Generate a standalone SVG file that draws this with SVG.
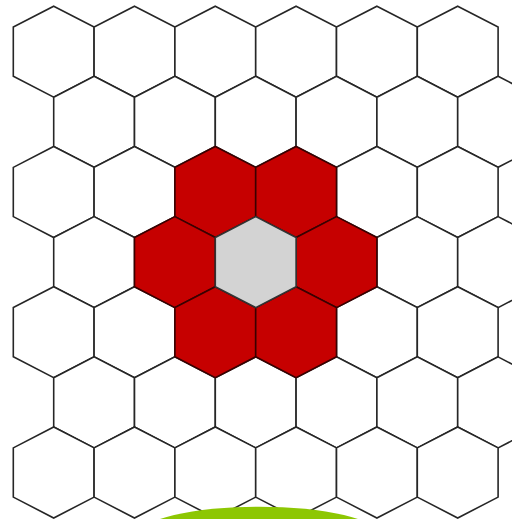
<svg xmlns="http://www.w3.org/2000/svg" xmlns:xlink="http://www.w3.org/1999/xlink" width="512" height="519" viewBox="0 0 512 519">
<style>
.w{fill:#ffffff;stroke:#262626;stroke-width:1.6;stroke-linejoin:miter}
.r{fill:#c60000;stroke:#3a0000;stroke-width:1.6}
.g{fill:#d3d3d3;stroke:#333333;stroke-width:1.6}
.blob{fill:#8dc703}
</style>
<defs>
<path id="hx" d="M0,-45.5 L40.4,-24.6 L40.4,24.6 L0,45.5 L-40.4,24.6 L-40.4,-24.6 Z"/>
</defs>
<rect width="512" height="519" fill="#ffffff"/>
<g id="grid">
<g id="h0-0" transform="translate(53.7,51.7)"><use href="#hx" class="w"/></g>
<g id="h0-1" transform="translate(134.5,51.7)"><use href="#hx" class="w"/></g>
<g id="h0-2" transform="translate(215.3,51.7)"><use href="#hx" class="w"/></g>
<g id="h0-3" transform="translate(296.1,51.7)"><use href="#hx" class="w"/></g>
<g id="h0-4" transform="translate(376.9,51.7)"><use href="#hx" class="w"/></g>
<g id="h0-5" transform="translate(457.7,51.7)"><use href="#hx" class="w"/></g>
<g id="h1-0" transform="translate(94.1,121.8)"><use href="#hx" class="w"/></g>
<g id="h1-1" transform="translate(174.9,121.8)"><use href="#hx" class="w"/></g>
<g id="h1-2" transform="translate(255.7,121.8)"><use href="#hx" class="w"/></g>
<g id="h1-3" transform="translate(336.5,121.8)"><use href="#hx" class="w"/></g>
<g id="h1-4" transform="translate(417.3,121.8)"><use href="#hx" class="w"/></g>
<g id="h1-5" transform="translate(498.1,121.8)"><use href="#hx" class="w"/></g>
<g id="h2-0" transform="translate(53.7,192)"><use href="#hx" class="w"/></g>
<g id="h2-1" transform="translate(134.5,192)"><use href="#hx" class="w"/></g>
<g id="h2-4" transform="translate(376.9,192)"><use href="#hx" class="w"/></g>
<g id="h2-5" transform="translate(457.7,192)"><use href="#hx" class="w"/></g>
<g id="h3-0" transform="translate(94.1,262.1)"><use href="#hx" class="w"/></g>
<g id="h3-4" transform="translate(417.3,262.1)"><use href="#hx" class="w"/></g>
<g id="h3-5" transform="translate(498.1,262.1)"><use href="#hx" class="w"/></g>
<g id="h4-0" transform="translate(53.7,332.2)"><use href="#hx" class="w"/></g>
<g id="h4-1" transform="translate(134.5,332.2)"><use href="#hx" class="w"/></g>
<g id="h4-4" transform="translate(376.9,332.2)"><use href="#hx" class="w"/></g>
<g id="h4-5" transform="translate(457.7,332.2)"><use href="#hx" class="w"/></g>
<g id="h5-0" transform="translate(94.1,402.4)"><use href="#hx" class="w"/></g>
<g id="h5-1" transform="translate(174.9,402.4)"><use href="#hx" class="w"/></g>
<g id="h5-2" transform="translate(255.7,402.4)"><use href="#hx" class="w"/></g>
<g id="h5-3" transform="translate(336.5,402.4)"><use href="#hx" class="w"/></g>
<g id="h5-4" transform="translate(417.3,402.4)"><use href="#hx" class="w"/></g>
<g id="h5-5" transform="translate(498.1,402.4)"><use href="#hx" class="w"/></g>
<g id="h6-0" transform="translate(53.7,472.5)"><use href="#hx" class="w"/></g>
<g id="h6-1" transform="translate(134.5,472.5)"><use href="#hx" class="w"/></g>
<g id="h6-2" transform="translate(215.3,472.5)"><use href="#hx" class="w"/></g>
<g id="h6-3" transform="translate(296.1,472.5)"><use href="#hx" class="w"/></g>
<g id="h6-4" transform="translate(376.9,472.5)"><use href="#hx" class="w"/></g>
<g id="h6-5" transform="translate(457.7,472.5)"><use href="#hx" class="w"/></g>
</g>
<g id="ring">
<g id="h2-2" transform="translate(215.3,192)"><use href="#hx" class="r"/></g>
<g id="h2-3" transform="translate(296.1,192)"><use href="#hx" class="r"/></g>
<g id="h3-1" transform="translate(174.9,262.1)"><use href="#hx" class="r"/></g>
<g id="h3-3" transform="translate(336.5,262.1)"><use href="#hx" class="r"/></g>
<g id="h4-2" transform="translate(215.3,332.2)"><use href="#hx" class="r"/></g>
<g id="h4-3" transform="translate(296.1,332.2)"><use href="#hx" class="r"/></g>
</g>
<g id="h3-2" transform="translate(255.7,262.1)"><use href="#hx" class="g"/></g>
<ellipse id="green-shape" class="blob" cx="259" cy="535" rx="120" ry="28.3"/>
</svg>
